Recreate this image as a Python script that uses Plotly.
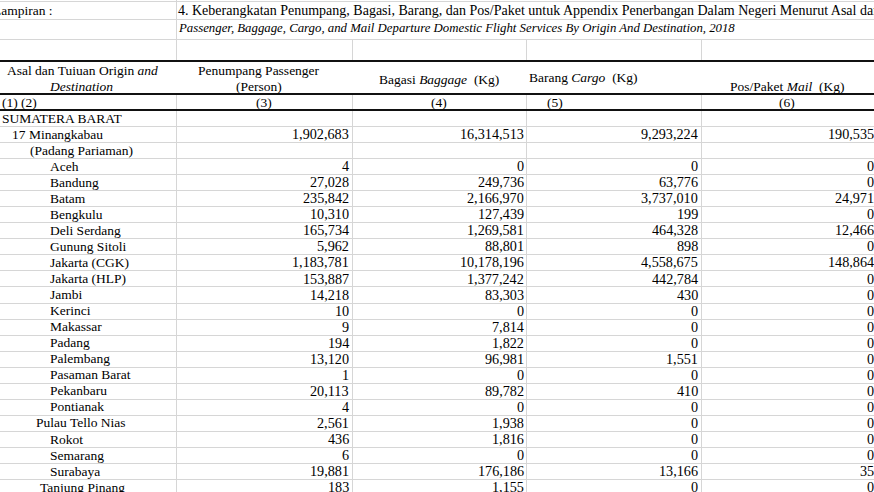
import plotly.graph_objects as go

# ---------------- data ----------------
title_id = "4. Keberangkatan Penumpang, Bagasi, Barang, dan Pos/Paket untuk Appendix Penerbangan Dalam Negeri Menurut Asal dan Tujuan, 2018"
title_en = "Passenger, Baggage, Cargo, and Mail Departure Domestic Flight Services By Origin And Destination, 2018"
sheet_label = "Lampiran :"

col_numbers = ["(1) (2)", "(3)", "(4)", "(5)", "(6)"]

labels = ["SUMATERA BARAT", "17 Minangkabau", "(Padang Pariaman)", "Aceh", "Bandung", "Batam",
          "Bengkulu", "Deli Serdang", "Gunung Sitoli", "Jakarta (CGK)", "Jakarta (HLP)", "Jambi",
          "Kerinci", "Makassar", "Padang", "Palembang", "Pasaman Barat", "Pekanbaru", "Pontianak",
          "Pulau Tello Nias", "Rokot", "Semarang", "Surabaya", "Tanjung Pinang"]

passenger = [None, 1902683, None, 4, 27028, 235842, 10310, 165734, 5962, 1183781, 153887, 14218,
             10, 9, 194, 13120, 1, 20113, 4, 2561, 436, 6, 19881, 183]
baggage = [None, 16314513, None, 0, 249736, 2166970, 127439, 1269581, 88801, 10178196, 1377242, 83303,
           0, 7814, 1822, 96981, 0, 89782, 0, 1938, 1816, 0, 176186, 1155]
cargo = [None, 9293224, None, 0, 63776, 3737010, 199, 464328, 898, 4558675, 442784, 430,
         0, 0, 0, 1551, 0, 410, 0, 0, 0, 0, 13166, 0]
mail = [None, 190535, None, 0, 0, 24971, 0, 12466, 0, 148864, 0, 0,
        0, 0, 0, 0, 0, 0, 0, 0, 0, 0, 35, 0]

# ---------------- layout / style ----------------
W, H = 874, 492
FONT = "Liberation Serif"
FS = 13.5
FS_NUM = 14.2
GRID = "#d6d6d6"

label_indent = [2, 12, 30] + [50] * 16 + [36, 50, 50, 50, 40]
col_edges = [176, 352, 526, 701]
num_right = [349, 523.5, 698, 873.5]
row0_y = 118.0
row_h = 16.05

fig = go.Figure()
fig.add_trace(go.Scatter(x=[], y=[], hoverinfo="skip"))
fig.update_layout(
    width=W, height=H, margin=dict(l=0, r=0, t=0, b=0),
    paper_bgcolor="white", plot_bgcolor="white", showlegend=False,
    xaxis=dict(range=[0, W], visible=False, fixedrange=True),
    yaxis=dict(range=[H, 0], visible=False, fixedrange=True),
)

def txt(x, y, s, anchor="left", size=FS, xref="x"):
    fig.add_annotation(x=x, y=y, xref=xref, yref="y", text=s, showarrow=False,
                       xanchor=anchor, yanchor="middle", borderpad=0, borderwidth=0,
                       font=dict(family=FONT, size=size, color="black"))

def hline(y, x0=0, x1=W, color=GRID, width=1):
    fig.add_shape(type="line", xref="x", yref="y", x0=x0, x1=x1, y0=y, y1=y,
                  line=dict(color=color, width=width), layer="below")

def vline(x, y0, y1, color=GRID, width=1):
    fig.add_shape(type="line", xref="x", yref="y", x0=x, x1=x, y0=y0, y1=y1,
                  line=dict(color=color, width=width), layer="below")

# grid lines
for y in [1.5, 19.5, 39.5]:
    hline(y)
k = 0
while True:
    y = round(126 + row_h * k) + 0.5
    if y > H:
        break
    hline(y)
    k += 1
vline(176.5, 0, 61)
for x in col_edges[1:]:
    vline(x + 0.5, 39.5, 61)
for x in col_edges:
    vline(x + 0.5, 94, H)

# thick borders
for y in [61, 94, 110]:
    hline(y, color="#111111", width=2)

# title rows
txt(-7.5 / W, 10, sheet_label, xref="paper")
txt(177.5, 10, title_id, size=14)
txt(177.5, 28, "<i>" + title_en + "</i>", size=12.8)

# header
txt(82.5, 70, "Asal dan Tuiuan Origin <i>and</i>", "center")
txt(80.5, 86.5, "<i>Destination</i>", "center")
txt(259, 70, "Penumpang Passenger", "center")
txt(259, 86.5, "(Person)", "center")
txt(439, 79.5, "Bagasi <i>Baggage</i>  (Kg)", "center")
txt(528.5, 77.5, "Barang <i>Cargo</i>  (Kg)")
txt(786.5, 86.5, "Pos/Paket <i>Mail</i>  (Kg)", "center")

# column numbers
txt(2, 102, col_numbers[0])
txt(264, 102, col_numbers[1], "center")
txt(439, 102, col_numbers[2], "center")
txt(555, 102, col_numbers[3], "center")
txt(787, 102, col_numbers[4], "center")

# body
for i, lab in enumerate(labels):
    y = row0_y + row_h * i
    txt(label_indent[i], y, lab)
    for series, xr in zip([passenger, baggage, cargo, mail], num_right):
        v = series[i]
        if v is not None:
            txt(xr, y, f"{v:,}", "right", size=FS_NUM)

fig.write_html("out.html", config={"displayModeBar": False},
               post_script="document.body.style.margin='0';document.body.style.overflow='hidden';")
